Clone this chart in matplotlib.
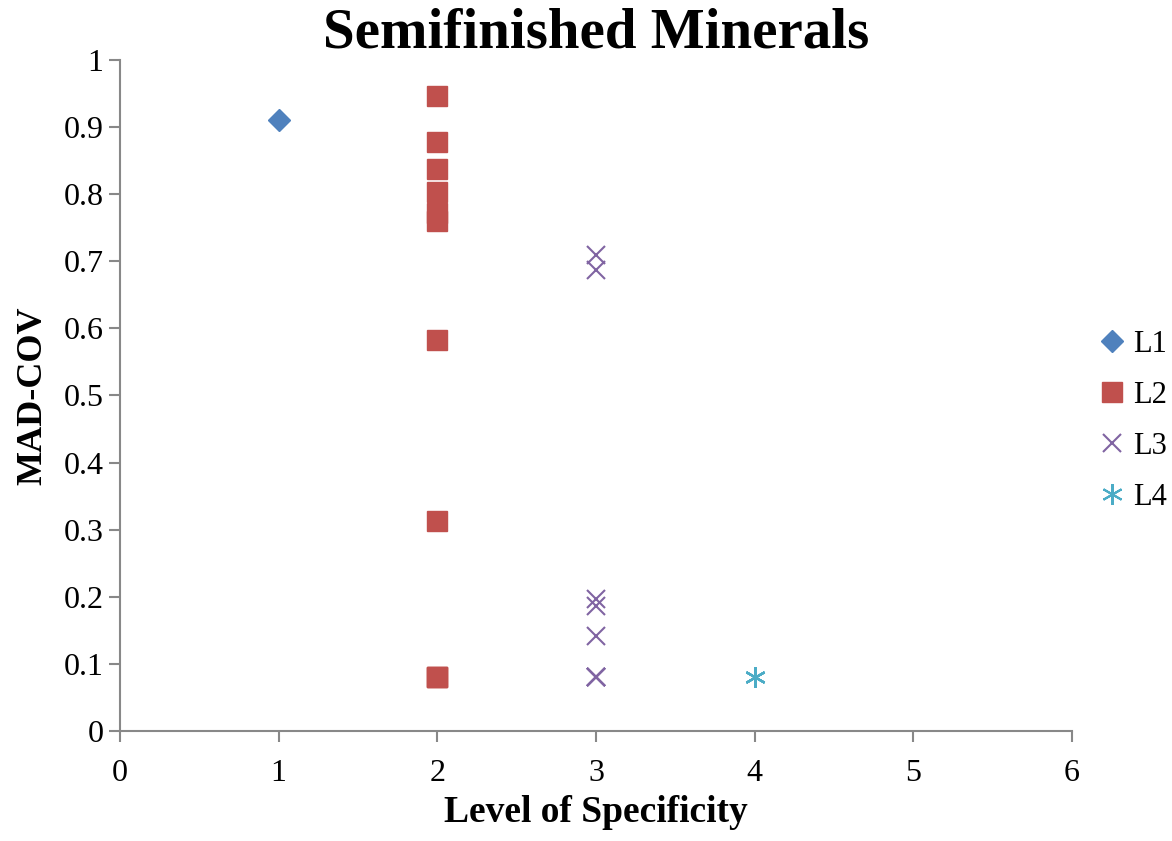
import numpy as np
import matplotlib
matplotlib.use("Agg")
import matplotlib.pyplot as plt

plt.rcParams['font.family'] = ['Liberation Serif', 'DejaVu Serif']

# data
l1_x = [1]
l1_y = [0.911]
l2_x = [2, 2, 2, 2, 2, 2, 2, 2, 2, 2, 2]
l2_y = [0.946, 0.878, 0.838, 0.803, 0.772, 0.760, 0.583, 0.313, 0.080, 0.080, 0.080]
l3_x = [3, 3, 3, 3, 3, 3, 3, 3, 3]
l3_y = [0.709, 0.687, 0.197, 0.187, 0.142, 0.080, 0.080, 0.080, 0.080]
l4_x = [4, 4, 4, 4]
l4_y = [0.080, 0.080, 0.080, 0.080]

fig = plt.figure(figsize=(11.72, 8.41), dpi=100)
ax = fig.add_axes([0.1024, 0.1308, 0.8123, 0.7979])

ax.plot(l1_x, l1_y, ls="none", marker="D", ms=11, color="#4F81BD", label="L1")
ax.plot(l2_x, l2_y, ls="none", marker="s", ms=14, color="#C0504D", label="L2")
ax.plot(l3_x, l3_y, ls="none", marker="x", ms=13, mew=1.5, color="#8064A2", label="L3")
ax.plot(l4_x, l4_y, ls="none", marker=(6, 2, 0), ms=15, mew=1.5, color="#4BACC6", label="L4")

ax.set_xlim(0, 6)
ax.set_ylim(0, 1)
ax.set_xticks(np.arange(0, 7, 1))
ax.set_yticks(np.arange(0, 1.01, 0.1))
ax.set_yticklabels(["0", "0.1", "0.2", "0.3", "0.4", "0.5", "0.6", "0.7", "0.8", "0.9", "1"])

for s in ["top", "right"]:
    ax.spines[s].set_visible(False)
for s in ["left", "bottom"]:
    ax.spines[s].set_color("#888888")
    ax.spines[s].set_linewidth(1.5)
ax.tick_params(direction="out", length=8, width=1.5, color="#888888", labelsize=23)
ax.tick_params(axis="x", pad=12)
ax.tick_params(axis="y", pad=4)

ax.set_xlabel("Level of Specificity", fontsize=27, fontweight="bold", labelpad=5)
ax.set_ylabel("MAD-COV", fontsize=26, fontweight="bold", labelpad=10)
ax.set_title("Semifinished Minerals", fontsize=41, fontweight="bold", pad=4)

leg = ax.legend(loc="center left", bbox_to_anchor=(1.0, 0.462), frameon=False, fontsize=22,
                handlelength=0.8, handletextpad=0.3, labelspacing=0.72, numpoints=1)

fig.savefig("out.png", dpi=100)
